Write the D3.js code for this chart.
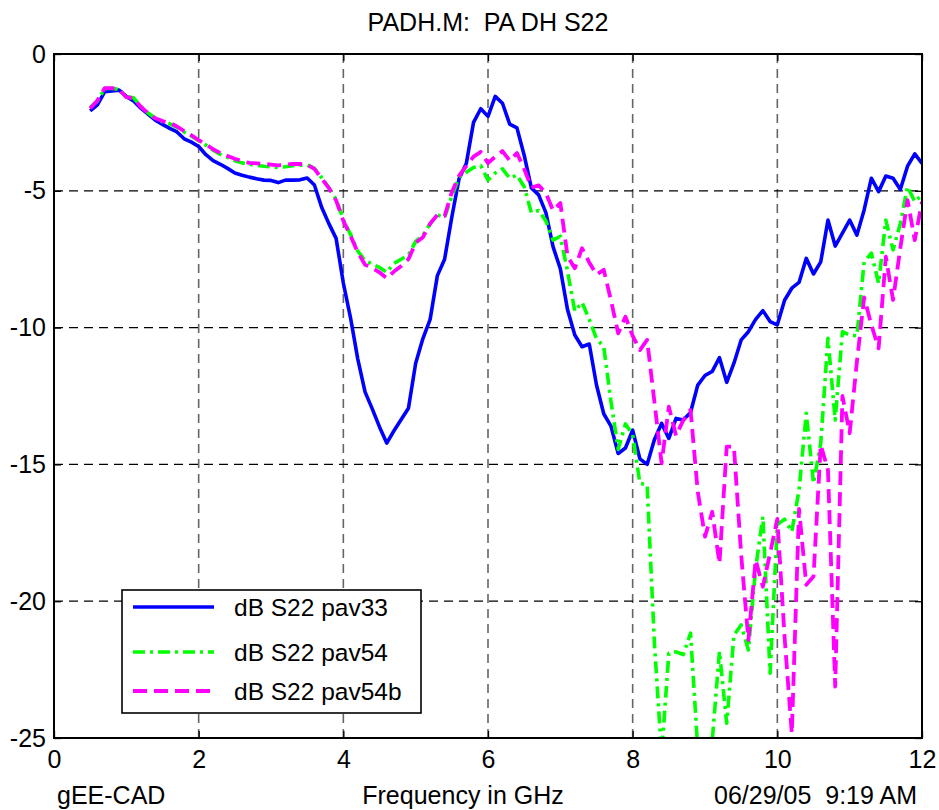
<!DOCTYPE html>
<html>
<head>
<meta charset="utf-8">
<script src="https://cdn.jsdelivr.net/npm/d3@7"></script>
<style>
  html, body { margin: 0; padding: 0; background: #fff; }
  svg { display: block; }
  text { font-family: "Liberation Sans", Arial, Helvetica, sans-serif; fill: #000; white-space: pre; }
</style>
</head>
<body>
<svg id="chart" width="939" height="810"></svg>
<script>
// Frequency grid in GHz (0.5 .. 12.0, 0.1 GHz steps)
const freqGHz = d3.range(5, 121).map(i => i / 10);

// |S22| in dB for the three cases
const s22Pav33 = [
  -2.08, -1.86, -1.38, -1.35, -1.32,
  -1.55, -1.72, -1.98, -2.20, -2.42,
  -2.57, -2.72, -2.85, -3.10, -3.22,
  -3.38, -3.68, -3.90, -4.03, -4.18,
  -4.35, -4.43, -4.50, -4.56, -4.61,
  -4.62, -4.70, -4.61, -4.61, -4.60,
  -4.53, -4.79, -5.60, -6.20, -6.74,
  -8.37, -9.65, -11.15, -12.35, -12.97,
  -13.63, -14.22, -13.77, -13.36, -12.95,
  -11.30, -10.40, -9.70, -8.10, -7.50,
  -5.96, -4.56, -4.00, -2.50, -2.00,
  -2.28, -1.55, -1.80, -2.56, -2.70,
  -3.70, -4.90, -5.15, -5.80, -7.05,
  -7.85, -9.35, -10.27, -10.70, -10.60,
  -12.10, -13.15, -13.60, -14.60, -14.40,
  -13.75, -14.80, -15.00, -14.10, -13.50,
  -14.05, -13.32, -13.38, -13.10, -12.10,
  -11.75, -11.60, -11.10, -12.00, -11.30,
  -10.45, -10.15, -9.70, -9.38, -9.78,
  -9.90, -9.00, -8.56, -8.35, -7.47,
  -8.04, -7.60, -6.07, -7.02, -6.55,
  -6.07, -6.62, -5.70, -4.54, -5.03,
  -4.46, -4.54, -4.95, -4.10, -3.65,
  -4.00
];

const s22Pav54 = [
  -1.95, -1.72, -1.27, -1.25, -1.30,
  -1.56, -1.60, -1.92, -2.15, -2.35,
  -2.47, -2.55, -2.68, -2.85, -3.00,
  -3.17, -3.33, -3.52, -3.67, -3.78,
  -3.90, -3.98, -4.03, -4.07, -4.10,
  -4.12, -4.15, -4.12, -4.08, -4.06,
  -4.06, -4.18, -4.52, -4.88, -5.32,
  -6.05, -6.60, -7.20, -7.55, -7.68,
  -7.80, -7.98, -7.65, -7.50, -7.35,
  -6.85, -6.63, -6.20, -5.88, -5.98,
  -5.20, -4.50, -4.32, -4.15, -4.08,
  -4.61, -4.35, -4.20, -4.54, -4.42,
  -4.85, -5.80, -5.72, -6.10, -6.80,
  -6.66, -7.95, -9.40, -9.08, -9.70,
  -10.40, -10.70, -12.70, -14.45, -13.52,
  -13.92, -15.69, -15.75, -21.50, -25.60,
  -21.90, -21.85, -21.95, -21.17, -25.40,
  -25.60, -25.10, -21.84, -24.46, -21.24,
  -20.87, -21.78, -18.80, -16.91, -22.63,
  -17.20, -17.00, -17.46, -15.94, -13.13,
  -15.69, -14.23, -10.39, -13.38, -10.15,
  -10.27, -10.30, -7.60, -7.28, -8.38,
  -6.07, -7.16, -6.20, -4.85, -5.40,
  -5.15
];

const s22Pav54b = [
  -1.99, -1.70, -1.25, -1.25, -1.30,
  -1.58, -1.62, -1.93, -2.16, -2.35,
  -2.45, -2.51, -2.65, -2.82, -2.97,
  -3.15, -3.30, -3.48, -3.62, -3.73,
  -3.83, -3.92, -3.98, -4.00, -4.02,
  -4.04, -4.07, -4.05, -4.02, -4.02,
  -4.04, -4.20, -4.55, -4.90, -5.35,
  -6.10, -6.65, -7.25, -7.70, -7.82,
  -7.98, -8.20, -7.95, -7.75, -7.50,
  -6.90, -6.70, -6.20, -5.88, -5.92,
  -5.05, -4.45, -4.10, -3.75, -3.58,
  -3.99, -3.75, -3.55, -3.90, -3.62,
  -4.20, -4.88, -4.80, -5.08, -5.72,
  -5.45, -7.40, -7.83, -7.10, -7.62,
  -8.06, -7.89, -9.00, -10.21, -9.60,
  -10.30, -10.82, -10.45, -12.70, -14.96,
  -12.89, -13.95, -13.38, -13.01, -16.00,
  -17.64, -16.73, -18.62, -14.35, -14.35,
  -18.30, -21.42, -18.49, -19.47, -18.25,
  -16.99, -21.30, -24.83, -16.63, -19.40,
  -19.10, -14.29, -15.20, -23.12, -12.50,
  -13.86, -11.25, -8.90, -9.90, -10.76,
  -7.41, -8.99, -7.10, -5.34, -6.80,
  -5.40
];

const seriesNames = ["dB S22 pav33", "dB S22 pav54", "dB S22 pav54b"];
const xTicks = [0, 2, 4, 6, 8, 10, 12];
const yTicks = [-25, -20, -15, -10, -5, 0];
const titleText = "PADH.M:  PA DH S22";
const xLabelText = "Frequency in GHz";
const leftFooter = "gEE-CAD";
const rightFooter = "06/29/05  9:19 AM";

const styles = [
  { color: "#0000ff", width: 3.6, dash: null },
  { color: "#00ff00", width: 3.6, dash: "12,5,3,5" },
  { color: "#ff00ff", width: 3.8, dash: "14,7" }
];

const svg = d3.select("#chart");
const plotL = 54, plotR = 922, plotT = 54, plotB = 738;

const x = d3.scaleLinear().domain([0, 12]).range([plotL, plotR]);
const y = d3.scaleLinear().domain([-25, 0]).range([plotB, plotT]);

// plot background
svg.append("rect").attr("x", plotL).attr("y", plotT)
  .attr("width", plotR - plotL).attr("height", plotB - plotT).attr("fill", "#fff");

// grid
const grid = svg.append("g");
grid.selectAll("line.vg").data(xTicks.filter(t => t > 0 && t < 12)).enter().append("line")
  .attr("x1", d => x(d)).attr("x2", d => x(d)).attr("y1", plotT).attr("y2", plotB)
  .attr("stroke", "#666").attr("stroke-width", 1.6).attr("stroke-dasharray", "9,6");
grid.selectAll("line.hg").data(yTicks.filter(t => t > -25 && t < 0)).enter().append("line")
  .attr("x1", plotL).attr("x2", plotR).attr("y1", d => y(d)).attr("y2", d => y(d))
  .attr("stroke", "#000").attr("stroke-width", 1.3).attr("stroke-dasharray", "9,6");

// curves
svg.append("clipPath").attr("id", "plotClip").append("rect")
  .attr("x", plotL).attr("y", plotT).attr("width", plotR - plotL).attr("height", plotB - plotT);

const line = d3.line().x(d => x(d[0])).y(d => y(d[1]));
const allSeries = [s22Pav33, s22Pav54, s22Pav54b];
const curves = svg.append("g").attr("clip-path", "url(#plotClip)");
allSeries.forEach((vals, i) => {
  const pts = freqGHz.map((f, k) => [f, vals[k]]);
  curves.append("path").datum(pts)
    .attr("d", line)
    .attr("fill", "none")
    .attr("stroke", styles[i].color)
    .attr("stroke-width", styles[i].width)
    .attr("stroke-linejoin", "round")
    .attr("stroke-dasharray", styles[i].dash);
});

// axes (plain hyphen for negative tick labels)
const fontSize = 25;
const plainFmt = d => String(d);
const xAxis = svg.append("g").attr("transform", `translate(0,${plotB})`)
  .call(d3.axisBottom(x).tickValues(xTicks).tickFormat(plainFmt).tickSize(-7).tickPadding(12));
const xAxisTop = svg.append("g").attr("transform", `translate(0,${plotT})`)
  .call(d3.axisTop(x).tickValues(xTicks).tickFormat("").tickSize(-7));
const yAxis = svg.append("g").attr("transform", `translate(${plotL},0)`)
  .call(d3.axisLeft(y).tickValues(yTicks).tickFormat(plainFmt).tickSize(-7).tickPadding(8));
const yAxisRight = svg.append("g").attr("transform", `translate(${plotR},0)`)
  .call(d3.axisRight(y).tickValues(yTicks).tickFormat("").tickSize(-7));

[xAxis, xAxisTop, yAxis, yAxisRight].forEach(g => {
  g.select(".domain").remove();
  g.selectAll(".tick line").attr("stroke", "#000").attr("stroke-width", 1.3);
  g.selectAll("text").attr("font-size", fontSize)
    .attr("font-family", "Liberation Sans, Arial, sans-serif").attr("fill", "#000");
});

// axes box
svg.append("rect").attr("x", plotL).attr("y", plotT)
  .attr("width", plotR - plotL).attr("height", plotB - plotT)
  .attr("fill", "none").attr("stroke", "#000").attr("stroke-width", 2);

// title & footer texts
svg.append("text").attr("x", (plotL + plotR) / 2).attr("y", 31)
  .attr("text-anchor", "middle").attr("font-size", fontSize).text(titleText);
svg.append("text").attr("x", 463).attr("y", 804)
  .attr("text-anchor", "middle").attr("font-size", fontSize).text(xLabelText);
svg.append("text").attr("x", 57).attr("y", 804)
  .attr("text-anchor", "start").attr("font-size", fontSize).text(leftFooter);
svg.append("text").attr("x", 917).attr("y", 804)
  .attr("text-anchor", "end").attr("font-size", fontSize).text(rightFooter);

// legend
const legend = svg.append("g");
legend.append("rect").attr("x", 122).attr("y", 590).attr("width", 299).attr("height", 123)
  .attr("fill", "#fff").attr("stroke", "#000").attr("stroke-width", 1.6);
const legendRows = [607, 652, 691];
seriesNames.forEach((name, i) => {
  legend.append("line")
    .attr("x1", 133).attr("x2", 214).attr("y1", legendRows[i]).attr("y2", legendRows[i])
    .attr("stroke", styles[i].color).attr("stroke-width", styles[i].width)
    .attr("stroke-dasharray", styles[i].dash);
  legend.append("text").attr("x", 234).attr("y", legendRows[i]).attr("dy", "0.35em")
    .attr("font-size", 24.5).text(name);
});
</script>
</body>
</html>
